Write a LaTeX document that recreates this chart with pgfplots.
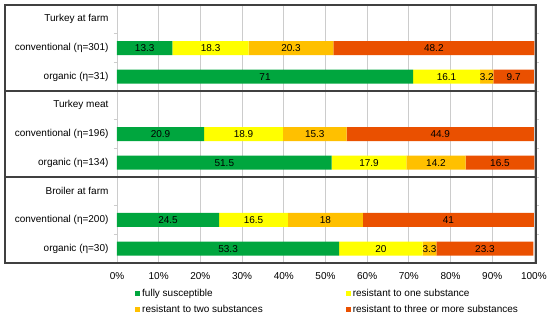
\documentclass[border=0pt]{standalone}
\usepackage{pgfplots}
\pgfplotsset{compat=1.18}
\usepackage{fontspec}
\setmainfont{Liberation Sans}
\definecolor{cgreen}{RGB}{0,166,62}
\definecolor{cyellow}{RGB}{255,255,0}
\definecolor{corange}{RGB}{255,192,0}
\definecolor{cred}{RGB}{234,80,0}
\definecolor{framec}{RGB}{64,64,64}
\definecolor{gridc}{RGB}{204,204,204}
\begin{document}
\begin{tikzpicture}
\useasboundingbox (0,0) rectangle (550pt,321pt);
\pgfplotsset{common/.style={
  scale only axis, width=419pt, height=258pt,
  at={(117pt,58pt)}, anchor=south west,
  xmin=0, xmax=100.5, ymin=-0.5, ymax=8.5,
  font=\fontsize{10}{12}\selectfont,
  /pgf/number format/assume math mode=true,
}}
\begin{axis}[common,
  xbar stacked, bar width=14pt, clip=false,
  axis line style={draw=none},
  xtick={0,10,...,100},
  xticklabel={\pgfmathprintnumber{\tick}\%},
  xticklabel style={yshift=-6pt},
  xmajorgrids, grid style={gridc, line width=0.8pt},
  ytick={0,...,8},
  yticklabels={{organic (η=30)},{conventional (η=200)},{Broiler at farm},{organic (η=134)},{conventional (η=196)},{Turkey meat},{organic (η=31)},{conventional (η=301)},{Turkey at farm}},
  yticklabel style={xshift=-5pt},
  minor ytick={0.5,1.5,...,7.5},
  tick align=outside,
  major tick length=0pt, minor tick length=3pt,
  minor tick style={gridc, line width=0.8pt},
  legend columns=2,
  legend cell align=left,
  legend style={at={(0,0)}, anchor=north west, xshift=18pt, yshift=-24pt, draw=none, fill=none, inner sep=0pt, row sep=3pt, font=\fontsize{10}{12}\selectfont, /tikz/every even column/.append style={column sep=81pt}},
]
\addplot[fill=cgreen, draw=none, legend image code/.code={\fill[cgreen] (0pt,-2.5pt) rectangle (5pt,2.5pt);}] coordinates {(13.3,7) (71,6) (20.9,4) (51.5,3) (24.5,1) (53.3,0)};
\addlegendentry{fully susceptible}
\addplot[fill=cyellow, draw=none, legend image code/.code={\fill[cyellow] (0pt,-2.5pt) rectangle (5pt,2.5pt);}] coordinates {(18.3,7) (16.1,6) (18.9,4) (17.9,3) (16.5,1) (20,0)};
\addlegendentry{resistant to one substance}
\addplot[fill=corange, draw=none, legend image code/.code={\fill[corange] (0pt,-2.5pt) rectangle (5pt,2.5pt);}] coordinates {(20.3,7) (3.2,6) (15.3,4) (14.2,3) (18,1) (3.3,0)};
\addlegendentry{resistant to two substances}
\addplot[fill=cred, draw=none, legend image code/.code={\fill[cred] (0pt,-2.5pt) rectangle (5pt,2.5pt);}] coordinates {(48.2,7) (9.7,6) (44.9,4) (16.5,3) (41,1) (23.3,0)};
\addlegendentry{resistant to three or more substances}
\draw[framec, line width=1.5pt] ([xshift=-112pt]axis cs:0,-0.5) rectangle (axis cs:100.5,8.5);
\draw[framec, line width=1.5pt] ([xshift=-112pt]axis cs:0,2.5) -- (axis cs:100.5,2.5);
\draw[framec, line width=1.5pt] ([xshift=-112pt]axis cs:0,5.5) -- (axis cs:100.5,5.5);
\end{axis}
\begin{axis}[common, hide axis]
\addplot[draw=none, mark=none, nodes near coords, nodes near coords align={center}, point meta=explicit symbolic,
  every node near coord/.append style={font=\fontsize{10}{12}\selectfont, text=black, inner sep=0pt}]
coordinates {
(6.65,7) [13.3] (22.45,7) [18.3] (41.75,7) [20.3] (76.0,7) [48.2]
(35.5,6) [71] (79.05,6) [16.1] (88.7,6) [3.2] (95.15,6) [9.7]
(10.45,4) [20.9] (30.35,4) [18.9] (47.45,4) [15.3] (77.55,4) [44.9]
(25.75,3) [51.5] (60.45,3) [17.9] (76.5,3) [14.2] (91.85,3) [16.5]
(12.25,1) [24.5] (32.75,1) [16.5] (50,1) [18] (79.5,1) [41]
(26.65,0) [53.3] (63.3,0) [20] (74.95,0) [3.3] (88.25,0) [23.3]
};
\end{axis}
\end{tikzpicture}
\end{document}
